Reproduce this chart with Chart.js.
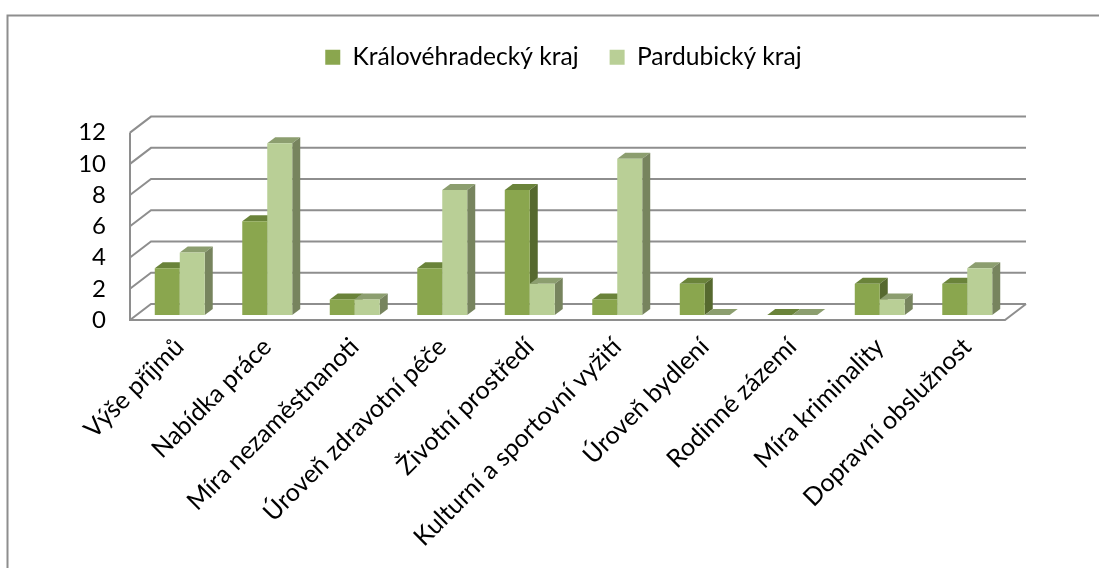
<!DOCTYPE html>
<html><head><meta charset="utf-8">
<script src="https://cdn.jsdelivr.net/npm/chart.js@4"></script>
<style>html,body{margin:0;padding:0;background:#fff}canvas{display:block}</style>
</head><body><canvas id="c" width="1099" height="568"></canvas>
<script>
const categories=["Výše příjmů","Nabídka práce","Míra nezaměstnanoti","Úroveň zdravotní péče","Životní prostředí","Kulturní a sportovní vyžití","Úroveň bydlení","Rodinné zázemí","Míra kriminality","Dopravní obslužnost"];
const kralovehradecky=[3,6,1,3,8,1,2,0,2,2];
const pardubicky=[4,11,1,8,2,10,0,0,1,3];
const yTicks=[0,2,4,6,8,10,12];
const FONT="Lato, Carlito, sans-serif";
const wallDepth={x:21,y:-16}, barShift={x:6,y:-5}, barDepth={x:8,y:-6};
const faces=[{top:"#6A833A",side:"#56692F"},{top:"#8C9E6F",side:"#77845E"}];

const scene={id:"scene",
  afterLayout(ch){
    const l=ch.legend;l.top=14;l.bottom=14+l.height;l.left+=61;l.right+=61;
  },
  beforeDraw(ch){
    const c=ch.ctx,a=ch.chartArea,y=ch.scales.y;
    c.save();c.strokeStyle="#8E8E8E";c.lineWidth=2;
    c.beginPath();c.moveTo(7.5,568);c.lineTo(7.5,15.5);c.lineTo(1099,15.5);c.stroke();
    yTicks.forEach(v=>{const p=y.getPixelForValue(v);
      c.beginPath();c.moveTo(a.left,p);c.lineTo(a.left+wallDepth.x,p+wallDepth.y);c.lineTo(a.right+wallDepth.x,p+wallDepth.y);c.stroke();});
    const b=y.getPixelForValue(0);
    c.beginPath();c.moveTo(a.left,y.getPixelForValue(12));c.lineTo(a.left,b);c.lineTo(a.right,b);c.lineTo(a.right+wallDepth.x,b+wallDepth.y);c.stroke();
    c.restore();
  },
  beforeDatasetDraw(){return false;},
  afterDatasetsDraw(ch){
    const c=ch.ctx;
    [0,1].forEach(i=>{
      const meta=ch.getDatasetMeta(i),f=faces[i];
      c.save();c.translate(barShift.x,barShift.y);
      meta.data.forEach(bar=>{
        const w=bar.width/2,l=bar.x-w,r=bar.x+w,t=bar.y,b=bar.base;
        c.fillStyle=f.top;c.beginPath();c.moveTo(l,t);c.lineTo(l+barDepth.x,t+barDepth.y);c.lineTo(r+barDepth.x,t+barDepth.y);c.lineTo(r,t);c.closePath();c.fill();
        if(b-t>0.5){c.fillStyle=f.side;c.beginPath();c.moveTo(r,t);c.lineTo(r+barDepth.x,t+barDepth.y);c.lineTo(r+barDepth.x,b+barDepth.y);c.lineTo(r,b);c.closePath();c.fill();}
      });
      meta.controller.draw();
      c.restore();
    });
  }
};

new Chart(document.getElementById("c"),{
  type:"bar",
  data:{labels:categories,datasets:[
    {label:"Královéhradecký kraj",data:kralovehradecky,backgroundColor:"#8AA64E"},
    {label:"Pardubický kraj",data:pardubicky,backgroundColor:"#B9CF96"}
  ]},
  options:{responsive:false,animation:false,devicePixelRatio:1,
    layout:{padding:{left:0,right:94,top:67,bottom:0}},
    datasets:{bar:{categoryPercentage:0.571,barPercentage:1,borderWidth:0}},
    plugins:{
      tooltip:{enabled:false},
      legend:{position:"top",labels:{font:{family:FONT,size:24.6},color:"#000",boxWidth:15,boxHeight:15,padding:31}}
    },
    scales:{
      x:{grid:{display:false},border:{display:false},
        ticks:{color:"#000",font:{family:FONT,size:25},minRotation:45,maxRotation:45,autoSkip:false,padding:4,labelOffset:6},
        afterFit(s){s.height=248;}},
      y:{min:0,max:12,grid:{display:false},border:{display:false},
        ticks:{color:"#000",stepSize:2,autoSkip:false,font:{family:FONT,size:24},padding:16},
        afterFit(s){s.width=130;}}
    }
  },
  plugins:[scene]
});
</script></body></html>
